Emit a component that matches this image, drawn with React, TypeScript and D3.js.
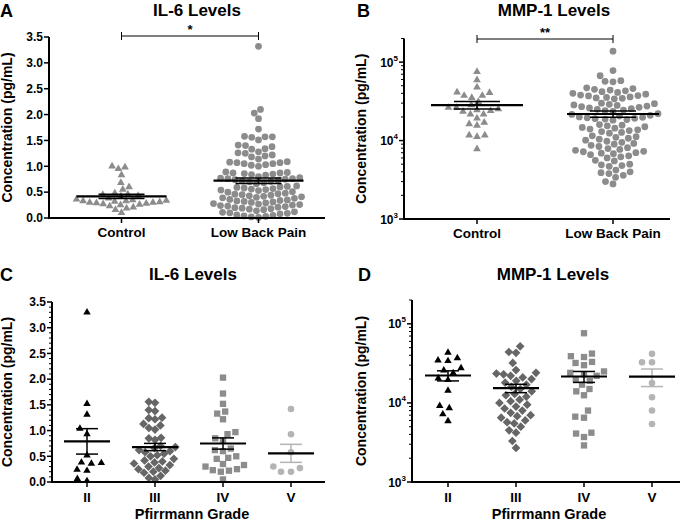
import React from 'react';
import * as d3 from 'd3';

const FONT = '"Liberation Sans", Arial, Helvetica, sans-serif';

// ---------- data ----------
const groupsAB = ['Control', 'Low Back Pain'];
const grades = ['II', 'III', 'IV', 'V'];

const il6Control = [1.0, 0.98, 0.95, 0.83, 0.68, 0.6, 0.55, 0.48, 0.46, 0.45, 0.43, 0.42, 0.38, 0.36, 0.35, 0.34, 0.33, 0.33, 0.32, 0.31, 0.3, 0.3, 0.29, 0.28, 0.27, 0.26, 0.25, 0.23, 0.21, 0.19, 0.16, 0.1];
const il6LBP = [3.32, 2.1, 2.03, 1.92, 1.72,
  1.58, 1.57, 1.57, 1.56, 1.51,
  1.41, 1.4, 1.38, 1.34, 1.33,
  1.28, 1.26, 1.25, 1.22, 1.2, 1.18, 1.14,
  1.09, 1.08, 1.07, 1.07, 1.05, 1.05, 1.03, 1.02, 1.0,
  0.89, 0.88, 0.87, 0.87, 0.86, 0.85, 0.84, 0.83, 0.8,
  0.78, 0.77, 0.76, 0.76, 0.75, 0.74, 0.73, 0.72, 0.71, 0.7, 0.68, 0.66,
  0.62, 0.61, 0.6, 0.59, 0.58, 0.57, 0.56, 0.55, 0.54, 0.53, 0.51, 0.5,
  0.48, 0.47, 0.46, 0.45, 0.44, 0.43, 0.42, 0.41, 0.4, 0.39, 0.38, 0.36, 0.35,
  0.34, 0.33, 0.32, 0.31, 0.3, 0.29, 0.28, 0.27, 0.26, 0.25, 0.24, 0.23, 0.22, 0.21,
  0.2, 0.19, 0.18, 0.17, 0.16, 0.14, 0.12, 0.11, 0.1, 0.09, 0.08, 0.06, 0.05, 0.04, 0.03, 0.02, 0.01];

const mmpControl = [75300, 59000, 47700, 41200, 40800, 37400, 37400, 35200, 31300, 28400, 26300, 26300, 25300, 24600, 23900, 23400, 21700, 21700, 19300, 17000, 16300, 15600, 11700, 11700, 11200, 7800];
const mmpLBP = [138000, 78000, 67000, 58000, 57000, 56000,
  47000, 46000, 45000,
  44000, 43000, 42000, 41000, 40000, 39000, 38000, 37500, 37000, 36000, 35500, 35000, 34500, 34000,
  30000, 29500, 29000, 28500, 28000, 27500, 27000, 26500, 26000, 25500, 25000, 24500, 24000, 23500,
  22000, 21500, 21000, 20500, 20000, 19800, 19500, 19200, 19000, 18800, 18500, 18200,
  16000, 15700, 15400, 15000, 14700, 14400, 14000, 13700, 13400, 13000, 12700, 12400,
  11500, 11200, 11000, 10700, 10400, 10100, 9800, 9500, 9200, 9000, 8700, 8400, 8100,
  7900, 7700, 7500, 7300, 7200, 7000, 6900, 6800, 6600, 6400, 6200, 6000,
  5600, 5500, 5000, 4900, 4800, 4700,
  4200, 4000, 3900, 3800,
  3600, 3400, 3000, 2800];

const il6G2 = [3.3, 1.52, 1.31, 1.04, 0.93, 0.52, 0.38, 0.37, 0.36, 0.24, 0.22, 0.06, 0.02];
const il6G3 = [1.56, 1.54, 1.4, 1.38, 1.25, 1.24, 1.22, 1.13, 1.1, 1.02, 1.05, 0.86, 0.85, 0.82, 0.7, 0.68, 0.66, 0.62, 0.6, 0.58, 0.55, 0.52, 0.5, 0.45, 0.42, 0.4, 0.38, 0.36, 0.33, 0.3, 0.27, 0.25, 0.22, 0.2, 0.18, 0.12, 0.08, 0.05];
const il6G4 = [2.03, 1.72, 1.52, 1.37, 1.33, 1.22, 0.97, 0.93, 0.85, 0.8, 0.65, 0.62, 0.6, 0.5, 0.47, 0.45, 0.35, 0.33, 0.3, 0.25, 0.23, 0.22, 0.2, 0.05];
const il6G5 = [1.42, 0.93, 0.58, 0.3, 0.27, 0.2, 0.2];

const mmpG2 = [43400, 36800, 34500, 33900, 27500, 25800, 23800, 20500, 19500, 14300, 9200, 8600, 7200, 5900];
const mmpG3 = [52000, 44000, 43000, 32000, 26000, 24000, 23500, 23000, 22000, 21000, 20000, 19000, 18000, 17000, 16000, 15000, 14000, 13000, 12500, 12000, 11000, 10500, 10000, 9500, 9000, 8500, 8000, 7500, 7000, 6800, 6500, 6000, 5700, 5500, 5000, 4500, 4200, 3300, 2700];
const mmpG4 = [76000, 42000, 39000, 38000, 33000, 32000, 30000, 25000, 24000, 23000, 22000, 20000, 19000, 17000, 15000, 14000, 12500, 8000, 6700, 6500, 4200, 4100, 3700, 2900];
const mmpG5 = [41700, 32700, 32700, 17800, 11800, 8000, 5400];

const linTicks = [0, 0.5, 1.0, 1.5, 2.0, 2.5, 3.0, 3.5];
const logTicks = [1e3, 1e4, 1e5];

// ---------- helpers ----------
type Shape = 'circle' | 'triangle' | 'diamond' | 'square';
type Group = { name: string; values: number[]; shape: Shape; fill: string; err: string; size: number };

function symbolPath(shape: Shape, size: number) {
  const t = shape === 'circle' ? d3.symbolCircle : shape === 'triangle' ? d3.symbolTriangle : d3.symbolSquare;
  return d3.symbol().type(t).size(size)() as string;
}

function swarm(values: number[], y: (v: number) => number, ax: number, ay: number, halfW: number) {
  const pts = values.map((v) => ({ v, y: y(v), x: 0 }));
  const order = [...pts].sort((a, b) => b.y - a.y);
  const placed: { v: number; y: number; x: number }[] = [];
  for (const p of order) {
    const cands = [0];
    for (const q of placed) {
      const dy = Math.abs(q.y - p.y);
      if (dy < ay) {
        const dx = ax * Math.sqrt(1 - (dy / ay) ** 2);
        cands.push(q.x + dx, q.x - dx);
      }
    }
    cands.sort((a, b) => Math.abs(a) - Math.abs(b) || a - b);
    const ok = (c: number) =>
      placed.every((q) => {
        const dy = (q.y - p.y) / ay;
        const dx = (q.x - c) / ax;
        return dx * dx + dy * dy >= 0.999;
      });
    p.x = cands.find(ok) ?? 0;
    placed.push(p);
  }
  const m = d3.max(pts, (p) => Math.abs(p.x)) ?? 0;
  if (m > halfW) pts.forEach((p) => (p.x *= halfW / m));
  return pts;
}

type PanelCfg = {
  letter: string; letterX: number; title: string; titleX: number; topBase: number;
  yAxisX: number; xAxisEnd: number; yScale: any; log: boolean;
  cats: string[]; xRange: [number, number];
  groups: Group[]; ax: number; ay: number; halfW: number; meanHalf: number; capHalf: number;
  yLabelX: number; xLabelBase: number; xTitle?: string; xTitleX?: number;
  sig?: { text: string; y: number };
  minor?: boolean;
};

function Panel({ c }: { c: PanelCfg }) {
  const y = c.yScale;
  const [y0, y1] = y.range();
  const x = d3.scalePoint().domain(c.cats).range(c.xRange).padding(0.5);
  const axisY = y0;
  const yTop = y1;
  const ticks = c.log ? logTicks : linTicks;
  const minorTicks: number[] = [];
  if (c.log) {
    for (const dec of [1e3, 1e4, 1e5]) for (let k = 2; k <= 9; k++) if (dec * k <= y.domain()[1]) minorTicks.push(dec * k);
  } else if (c.minor) {
    for (let i = 0; i <= 35; i++) if (i % 5 !== 0) minorTicks.push(i / 10);
  }
  return (
    <g fontFamily={FONT} fontWeight="bold">
      <text x={c.letterX} y={c.topBase + 1} fontSize={18}>{c.letter}</text>
      <text x={c.titleX} y={c.topBase} fontSize={17} textAnchor="middle">{c.title}</text>
      <text transform={`translate(${c.yLabelX},${(y0 + y1) / 2}) rotate(-90)`} fontSize={14} textAnchor="middle">
        Concentration (pg/mL)
      </text>
      {/* points */}
      {c.groups.map((g) => {
        const cx = x(g.name) as number;
        const pts = swarm(g.values, y, c.ax, c.ay, c.halfW);
        const path = symbolPath(g.shape, g.size);
        return (
          <g key={g.name}>
            {pts.map((p, i) => (
              <path key={i} d={path} fill={g.fill}
                transform={`translate(${cx + p.x},${p.y})${g.shape === 'diamond' ? ' rotate(45)' : ''}`} />
            ))}
          </g>
        );
      })}
      {/* mean and SEM */}
      {c.groups.map((g) => {
        const cx = x(g.name) as number;
        const m = d3.mean(g.values) as number;
        const sem = (d3.deviation(g.values) as number) / Math.sqrt(g.values.length);
        const ym = y(m), yh = y(m + sem), yl = y(m - sem);
        return (
          <g key={g.name + 'e'}>
            <line x1={cx} x2={cx} y1={yh} y2={yl} stroke={g.err} strokeWidth={1.5} />
            <line x1={cx - c.capHalf} x2={cx + c.capHalf} y1={yh} y2={yh} stroke={g.err} strokeWidth={1.5} />
            <line x1={cx - c.capHalf} x2={cx + c.capHalf} y1={yl} y2={yl} stroke={g.err} strokeWidth={1.5} />
            <line x1={cx - c.meanHalf} x2={cx + c.meanHalf} y1={ym} y2={ym} stroke="#000" strokeWidth={2.2} />
          </g>
        );
      })}
      {/* axes */}
      <line x1={c.yAxisX} x2={c.yAxisX} y1={yTop} y2={axisY + 1} stroke="#000" strokeWidth={2} />
      <line x1={c.yAxisX - 1} x2={c.xAxisEnd} y1={axisY} y2={axisY} stroke="#000" strokeWidth={2} />
      {minorTicks.map((t) => (
        <line key={'m' + t} x1={c.yAxisX - 3} x2={c.yAxisX} y1={y(t)} y2={y(t)} stroke="#000" strokeWidth={1} />
      ))}
      {ticks.map((t) => (
        <g key={'t' + t}>
          <line x1={c.yAxisX - 5} x2={c.yAxisX} y1={y(t)} y2={y(t)} stroke="#000" strokeWidth={1.5} />
          {c.log ? (
            <text x={c.yAxisX - 6} y={y(t) + 4.5} fontSize={12} textAnchor="end">
              10<tspan fontSize={8} dy={-6}>{Math.round(Math.log10(t))}</tspan>
            </text>
          ) : (
            <text x={c.yAxisX - 6} y={y(t) + 4.3} fontSize={12} textAnchor="end">{d3.format('.1f')(t)}</text>
          )}
        </g>
      ))}
      {c.cats.map((k) => (
        <g key={'x' + k}>
          <line x1={x(k)} x2={x(k)} y1={axisY} y2={axisY + 5} stroke="#000" strokeWidth={1.5} />
          <text x={x(k)} y={c.xLabelBase} fontSize={13.5} textAnchor="middle">{k}</text>
        </g>
      ))}
      {c.xTitle && (
        <text x={c.xTitleX} y={519} fontSize={14.5} textAnchor="middle">{c.xTitle}</text>
      )}
      {c.sig && (() => {
        const xa = x(c.cats[0]) as number, xb = x(c.cats[1]) as number;
        return (
          <g>
            <line x1={xa} x2={xb} y1={c.sig.y} y2={c.sig.y} stroke="#000" strokeWidth={1} />
            <line x1={xa} x2={xa} y1={c.sig.y - 4} y2={c.sig.y + 4} stroke="#000" strokeWidth={1} />
            <line x1={xb} x2={xb} y1={c.sig.y - 4} y2={c.sig.y + 4} stroke="#000" strokeWidth={1} />
            <text x={(xa + xb) / 2} y={c.sig.y - 2} fontSize={13} textAnchor="middle">{c.sig.text}</text>
          </g>
        );
      })()}
    </g>
  );
}

const GRAY = '#8c8c8c';

const panelA: PanelCfg = {
  letter: 'A', letterX: 0, title: 'IL-6 Levels', titleX: 197, topBase: 16,
  yAxisX: 49, xAxisEnd: 325, yScale: d3.scaleLinear().domain([0, 3.5]).range([218, 37]), log: false,
  cats: groupsAB, xRange: [53, 327],
  groups: [
    { name: 'Control', values: il6Control, shape: 'triangle', fill: GRAY, err: '#000', size: 26 },
    { name: 'Low Back Pain', values: il6LBP, shape: 'circle', fill: GRAY, err: '#000', size: 36 },
  ],
  ax: 8, ay: 7, halfW: 45, meanHalf: 45, capHalf: 23,
  yLabelX: 12, xLabelBase: 236.5, sig: { text: '*', y: 36 },
};

const panelB: PanelCfg = {
  letter: 'B', letterX: 357, title: 'MMP-1 Levels', titleX: 554, topBase: 16,
  yAxisX: 404, xAxisEnd: 670, yScale: d3.scaleLog().domain([1e3, 2e5]).range([219, 38.5]), log: true,
  cats: groupsAB, xRange: [409, 681],
  groups: [
    { name: 'Control', values: mmpControl, shape: 'triangle', fill: GRAY, err: '#000', size: 26 },
    { name: 'Low Back Pain', values: mmpLBP, shape: 'circle', fill: GRAY, err: '#000', size: 36 },
  ],
  ax: 8, ay: 7, halfW: 45, meanHalf: 46, capHalf: 23,
  yLabelX: 366, xLabelBase: 238, sig: { text: '**', y: 39 },
};

const panelC: PanelCfg = {
  letter: 'C', letterX: 0, title: 'IL-6 Levels', titleX: 193, topBase: 280,
  yAxisX: 52, xAxisEnd: 325, yScale: d3.scaleLinear().domain([0, 3.5]).range([482, 302]), log: false,
  cats: grades, xRange: [53, 325],
  groups: [
    { name: 'II', values: il6G2, shape: 'triangle', fill: '#000', err: '#000', size: 24 },
    { name: 'III', values: il6G3, shape: 'diamond', fill: '#666', err: '#000', size: 38 },
    { name: 'IV', values: il6G4, shape: 'square', fill: GRAY, err: '#000', size: 40 },
    { name: 'V', values: il6G5, shape: 'circle', fill: '#b4b4b4', err: '#b4b4b4', size: 34 },
  ],
  ax: 10, ay: 8, halfW: 21, meanHalf: 23, capHalf: 11,
  yLabelX: 12, xLabelBase: 502, xTitle: 'Pfirrmann Grade', xTitleX: 192, minor: true,
};

const panelD: PanelCfg = {
  letter: 'D', letterX: 358, title: 'MMP-1 Levels', titleX: 553, topBase: 280,
  yAxisX: 412, xAxisEnd: 680, yScale: d3.scaleLog().domain([1e3, 2e5]).range([482, 300]), log: true,
  cats: grades, xRange: [414, 686],
  groups: [
    { name: 'II', values: mmpG2, shape: 'triangle', fill: '#000', err: '#000', size: 24 },
    { name: 'III', values: mmpG3, shape: 'diamond', fill: '#666', err: '#000', size: 38 },
    { name: 'IV', values: mmpG4, shape: 'square', fill: GRAY, err: '#000', size: 40 },
    { name: 'V', values: mmpG5, shape: 'circle', fill: '#b4b4b4', err: '#b4b4b4', size: 34 },
  ],
  ax: 10, ay: 8, halfW: 20, meanHalf: 23, capHalf: 11,
  yLabelX: 366, xLabelBase: 502, xTitle: 'Pfirrmann Grade', xTitleX: 549,
};

export default function App() {
  return (
    <svg width={685} height={523} style={{ position: 'absolute', left: 0, top: 0, display: 'block' }}>
      <rect width={685} height={523} fill="#fff" />
      <Panel c={panelA} />
      <Panel c={panelB} />
      <Panel c={panelC} />
      <Panel c={panelD} />
    </svg>
  );
}
